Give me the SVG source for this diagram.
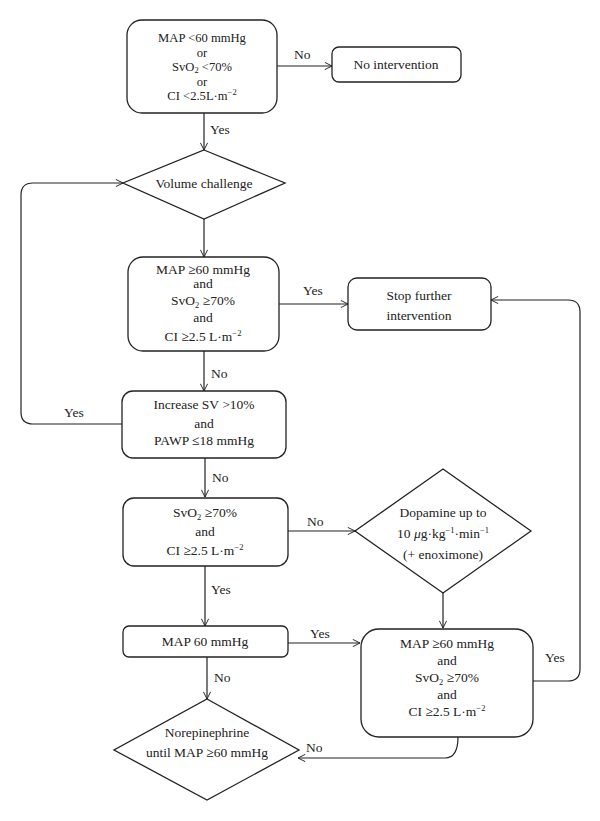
<svg xmlns="http://www.w3.org/2000/svg" width="600" height="821" viewBox="0 0 600 821">
<defs>
<marker id="arr" viewBox="0 0 10 10" refX="10" refY="5" markerWidth="8" markerHeight="8" markerUnits="userSpaceOnUse" orient="auto">
<path d="M1,0.5 L10,5 L1,9.5" fill="none" stroke="#222" stroke-width="1.2"/>
</marker>
</defs>
<style>
.n{fill:#fff;stroke:#222;stroke-width:1.3}
.c{fill:none;stroke:#222;stroke-width:1.2;marker-end:url(#arr)}
text{font-family:"Liberation Serif","DejaVu Serif",serif;font-size:13.5px;fill:#222}
.m{text-anchor:middle}
.t{font-size:12.6px}
.s{font-size:8.5px}
</style>
<rect width="600" height="821" fill="#fff"/>
<g id="connectors">
<path class="c" d="M277,66 H332"/>
<path class="c" d="M204,113 V150"/>
<path class="c" d="M204,219 V257"/>
<path class="c" d="M279,304 H348"/>
<path class="c" d="M204,351 V391"/>
<path class="c" d="M122,424 H33 Q21,424 21,412 V195 Q21,183 33,183 H123"/>
<path class="c" d="M205,458 V497"/>
<path class="c" d="M288,531 H355"/>
<path class="c" d="M443,593 V628"/>
<path class="c" d="M205,566 V626"/>
<path class="c" d="M288,643 H360"/>
<path class="c" d="M533,681 H568 Q580,681 580,669 V312 Q580,300 568,300 H491"/>
<path class="c" d="M458,737 Q458,758 445,758 H298"/>
<path class="c" d="M207,657 V699"/>
<text x="294" y="59">No</text>
<text x="210" y="134">Yes</text>
<text x="303" y="295">Yes</text>
<text x="211" y="378">No</text>
<text x="64" y="417">Yes</text>
<text x="212" y="482">No</text>
<text x="307" y="526">No</text>
<text x="211" y="594">Yes</text>
<text x="310" y="638">Yes</text>
<text x="545" y="662">Yes</text>
<text x="306" y="752">No</text>
<text x="214" y="682">No</text>
</g>
<g id="n1">
<rect class="n" x="127" y="20" width="150" height="93" rx="15"/>
<text class="m t" x="202" y="42">MAP &lt;60 mmHg</text>
<text class="m t" x="202" y="56.5">or</text>
<text class="m t" x="202" y="71">SvO<tspan class="s" dy="2">2</tspan><tspan dy="-2"> &lt;70%</tspan></text>
<text class="m t" x="202" y="85.5">or</text>
<text class="m t" x="202" y="100">CI &lt;2.5L·m<tspan class="s" dy="-5">−2</tspan></text>
</g>
<g id="n2">
<rect class="n" x="332" y="47" width="129" height="35" rx="7"/>
<text class="m" x="396" y="69">No intervention</text>
</g>
<g id="n3">
<polygon class="n" points="204,150 285,183 204,219 123,183"/>
<text class="m" x="204" y="188">Volume challenge</text>
</g>
<g id="n4">
<rect class="n" x="128" y="257" width="151" height="94" rx="15"/>
<text class="m" x="203" y="274">MAP ≥60 mmHg</text>
<text class="m" x="203" y="288">and</text>
<text class="m" x="203" y="305">SvO<tspan class="s" dy="3">2</tspan><tspan dy="-3"> ≥70%</tspan></text>
<text class="m" x="203" y="322">and</text>
<text class="m" x="203" y="341">CI ≥2.5 L·m<tspan class="s" dy="-5">−2</tspan></text>
</g>
<g id="n5">
<rect class="n" x="348" y="278" width="143" height="52" rx="9"/>
<text class="m" x="419" y="300">Stop further</text>
<text class="m" x="419" y="320">intervention</text>
</g>
<g id="n6">
<rect class="n" x="122" y="391" width="164" height="67" rx="11"/>
<text class="m" x="204" y="409">Increase SV &gt;10%</text>
<text class="m" x="204" y="428">and</text>
<text class="m" x="204" y="445">PAWP ≤18 mmHg</text>
</g>
<g id="n7">
<rect class="n" x="123" y="498" width="165" height="68" rx="11"/>
<text class="m" x="205" y="517">SvO<tspan class="s" dy="3">2</tspan><tspan dy="-3"> ≥70%</tspan></text>
<text class="m" x="205" y="536">and</text>
<text class="m" x="205" y="555">CI ≥2.5 L·m<tspan class="s" dy="-5">−2</tspan></text>
</g>
<g id="n8">
<polygon class="n" points="443,469 531,531 443,593 355,531"/>
<text class="m" x="443" y="517">Dopamine up to</text>
<text class="m" x="443" y="538">10 <tspan font-style="italic">μ</tspan>g·kg<tspan class="s" dy="-5">−1</tspan><tspan dy="5">·min</tspan><tspan class="s" dy="-5">−1</tspan></text>
<text class="m" x="443" y="559">(+ enoximone)</text>
</g>
<g id="n9">
<rect class="n" x="123" y="626" width="165" height="31" rx="6"/>
<text class="m" x="205" y="646">MAP 60 mmHg</text>
</g>
<g id="n10">
<rect class="n" x="361" y="629" width="172" height="108" rx="18"/>
<text class="m" x="447" y="648">MAP ≥60 mmHg</text>
<text class="m" x="447" y="665">and</text>
<text class="m" x="447" y="682">SvO<tspan class="s" dy="3">2</tspan><tspan dy="-3"> ≥70%</tspan></text>
<text class="m" x="447" y="699">and</text>
<text class="m" x="447" y="716">CI ≥2.5 L·m<tspan class="s" dy="-5">−2</tspan></text>
</g>
<g id="n11">
<polygon class="n" points="207,699 299,750 207,800 114,750"/>
<text class="m" x="207" y="737">Norepinephrine</text>
<text class="m" x="207" y="757">until MAP ≥60 mmHg</text>
</g>
</svg>
